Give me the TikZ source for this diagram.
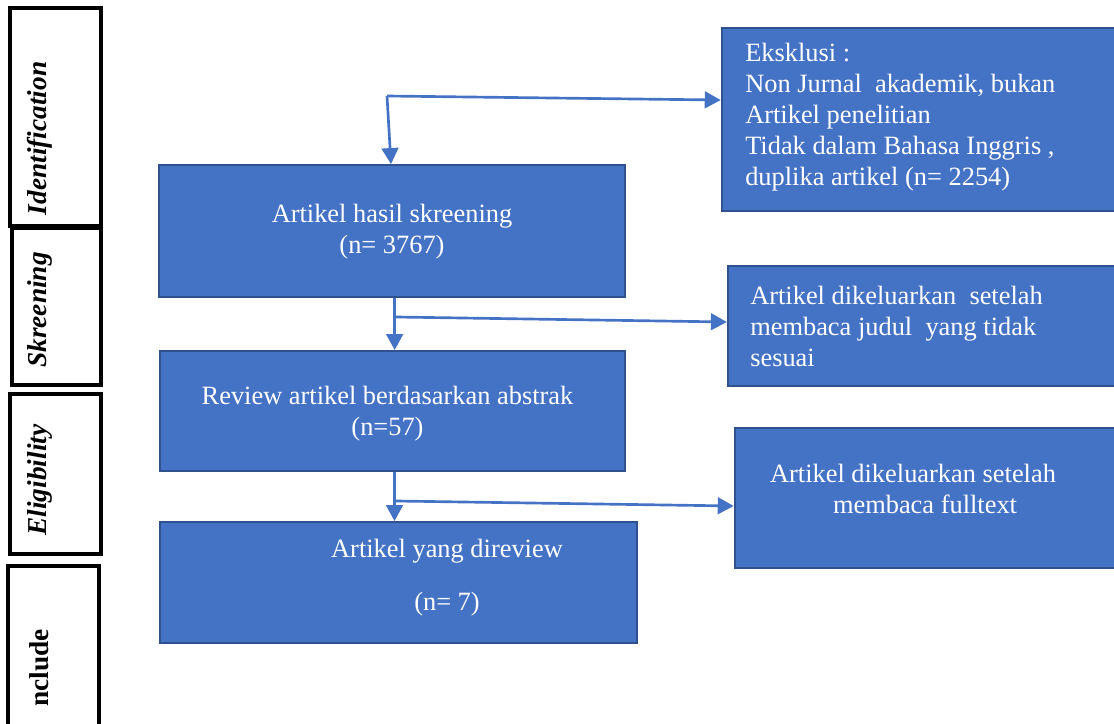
\documentclass[tikz,border=0pt]{standalone}
\usepackage{fontspec}
\setmainfont{Liberation Serif}
\usetikzlibrary{arrows.meta}
\definecolor{boxblue}{HTML}{4472C4}
\definecolor{boxedge}{HTML}{2F528F}
\begin{document}
\begin{tikzpicture}[x=0.75pt,y=-0.75pt,
  bluebox/.style={draw=boxedge,line width=1.4pt,fill=boxblue,inner sep=0pt,anchor=center},
  phasebox/.style={draw=black,line width=2.3pt,inner sep=0pt},
  phasetext/.style={rotate=90,font=\fontsize{20.5}{24}\selectfont\bfseries\itshape,inner sep=0pt},
  boxtext/.style={text=white,font=\fontsize{19.8}{23.25}\selectfont,inner sep=0pt},
  arr/.style={draw=boxblue,line width=2pt,-{Triangle[width=12.5pt,length=12pt]}}]
\useasboundingbox (0,0) rectangle (1114,724);

% phase boxes
\node[phasebox,minimum width=68.25pt,minimum height=163.5pt] (p1) at (55.5,117) {};
\node[phasebox,minimum width=66.75pt,minimum height=117.75pt] (p2) at (56.5,306.5) {};
\node[phasebox,minimum width=68.25pt,minimum height=120pt] (p3) at (55.5,474) {};
\node[phasebox,minimum width=68.25pt,minimum height=123pt] (p4) at (53.5,648) {};
\node[phasetext] (l1) at (40,138.5) {Identification};
\node[phasetext] (l2) at (40,310) {Skreening};
\node[phasetext] (l3) at (40,480) {Eligibility};
\node[phasetext,font=\fontsize{20.5}{24}\selectfont\bfseries] (l4) at (39,668) {nclude};

% blue boxes
\node[bluebox,minimum width=349.5pt,minimum height=99pt] (A) at (392,231) {};
\node[bluebox,minimum width=348.75pt,minimum height=90pt] (B) at (392.5,411) {};
\node[bluebox,minimum width=357.75pt,minimum height=90.75pt] (C) at (398.5,582.5) {};
\node[bluebox,minimum width=296pt,minimum height=137.25pt] (D) at (919,119.5) {};
\node[bluebox,minimum width=292pt,minimum height=90pt] (E) at (922.5,326) {};
\node[bluebox,minimum width=287pt,minimum height=105pt] (F) at (926,498) {};

% texts
\node[boxtext,align=center] (ta) at (392,231.5) {Artikel hasil skreening\\(n= 3767)};
\node[boxtext,align=center] (tb) at (387.5,413.5) {Review artikel berdasarkan abstrak\\(n=57)};
\node[boxtext,align=center] (tc) at (447,577.5) {Artikel yang direview\\[16.5pt](n= 7)};
\node[boxtext,align=left,anchor=west] (td) at (745,117.5) {Eksklusi :\\Non Jurnal\ \ akademik, bukan\\Artikel penelitian\\Tidak dalam Bahasa Inggris ,\\duplika artikel (n= 2254)};
\node[boxtext,align=left,anchor=west] (te) at (750,326) {Artikel dikeluarkan\ \ setelah\\membaca judul\ \ yang tidak\\sesuai};
\node[boxtext,align=center] (tf) at (913,488.5) {Artikel dikeluarkan setelah\\\hspace*{18pt}membaca fulltext};

% connectors
\coordinate (j1) at (387,96);
\coordinate (j2) at (396,317);
\coordinate (j3) at (396,501);
\draw[arr] (j1) -- ([xshift=3pt]j1 |- A.north);
\draw[arr] (j1) -- ([yshift=14.6pt]D.west);
\draw[arr] ([xshift=2pt]A.south) -- ([xshift=2pt]A.south |- B.north);
\draw[arr] (j2) -- ([yshift=3pt]E.west);
\draw[arr] ([xshift=1.5pt]B.south) -- ([xshift=1.5pt]B.south |- C.north);
\draw[arr] (j3) -- ([yshift=-6pt]F.west);
\end{tikzpicture}
\end{document}
